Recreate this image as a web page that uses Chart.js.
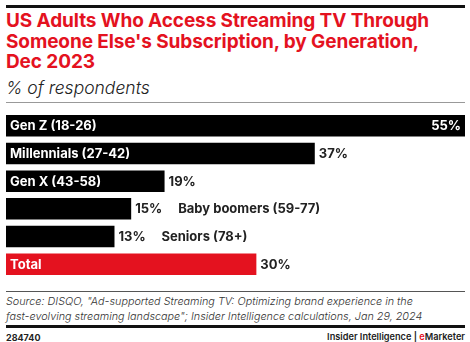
<!DOCTYPE html>
<html>
<head>
<meta charset="utf-8">
<script src="https://cdn.jsdelivr.net/npm/chart.js@4.4.1/dist/chart.umd.min.js"></script>
<style>
  html, body { margin: 0; padding: 0; background: #fff; }
  body { width: 470px; height: 342px; position: relative; overflow: hidden; font-family: Inter, "Noto Sans", sans-serif; }
  .rule { position: absolute; left: 6px; width: 459px; }
  #title { position: absolute; left: 6px; top: 11px; width: 464px; color: #e4121f; font-weight: 700; font-size: 19px; line-height: 20.5px; letter-spacing: -0.1px; white-space: nowrap; }
  #subtitle { position: absolute; left: 6px; top: 77px; font-style: italic; font-size: 17.5px; color: #222; font-weight: 300; }
  #chartBox { position: absolute; left: 6px; top: 112px; width: 459px; height: 166px; }
  #source { position: absolute; left: 6px; top: 294px; font-style: italic; font-size: 10.8px; line-height: 15px; color: #333; font-weight: 300; white-space: nowrap; }
  #id { position: absolute; left: 6px; top: 332px; font-size: 9px; font-weight: 700; color: #222; }
  #brand { position: absolute; right: 5px; top: 331px; font-size: 9.2px; font-weight: 600; color: #222; }
</style>
</head>
<body>
<div class="rule" style="top:5px;height:3px;background:#111"></div>
<div id="title">US Adults Who Access Streaming TV Through<br>Someone Else's Subscription, by Generation,<br>Dec 2023</div>
<div id="subtitle">% of respondents</div>
<div class="rule" style="top:102px;height:1px;background:#999"></div>
<div id="chartBox"><canvas id="bars"></canvas></div>
<div class="rule" style="top:291px;height:1px;background:#555"></div>
<div id="source">Source: DISQO, "Ad-supported Streaming TV: Optimizing brand experience in the<br>fast-evolving streaming landscape"; Insider Intelligence calculations, Jan 29, 2024</div>
<div class="rule" style="top:325px;height:3px;background:#111"></div>
<div id="id">284740</div>
<div id="brand">Insider Intelligence | <span style="color:#e4121f">e</span>Marketer</div>
<script>
const categories = ['Gen Z (18-26)', 'Millennials (27-42)', 'Gen X (43-58)', 'Baby boomers (59-77)', 'Seniors (78+)', 'Total'];
const values = [55, 37, 19, 15, 13, 30];
const barColors = ['#000000', '#000000', '#000000', '#000000', '#000000', '#e4121f'];

const labelFont = '700 13px Inter, "Noto Sans", sans-serif';

// category name goes inside the bar when there is room, otherwise after the value
const barLabels = {
  id: 'barLabels',
  afterDatasetsDraw(chart) {
    const ctx = chart.ctx;
    const meta = chart.getDatasetMeta(0);
    ctx.save();
    ctx.font = labelFont;
    ctx.textBaseline = 'middle';
    meta.data.forEach((bar, i) => {
      const left = bar.base;
      const right = bar.x;
      const y = bar.y + 0.5;
      const valText = values[i] + '%';
      const catText = categories[i];
      const catW = ctx.measureText(catText).width;
      const valW = ctx.measureText(valText).width;
      const inside = catW + 30 < right - left;
      if (inside) {
        ctx.fillStyle = '#fff';
        ctx.textAlign = 'left';
        ctx.fillText(catText, left + 4, y);
        if (right + 6 + valW > chart.chartArea.right) {
          ctx.textAlign = 'right';
          ctx.fillText(valText, right - 4, y);
        } else {
          ctx.fillStyle = '#222';
          ctx.textAlign = 'left';
          ctx.fillText(valText, right + 4, y);
        }
      } else {
        ctx.fillStyle = '#222';
        ctx.textAlign = 'left';
        ctx.fillText(valText, right + 4, y);
        ctx.fillText(catText, right + 47, y);
      }
    });
    ctx.restore();
  }
};

new Chart(document.getElementById('bars'), {
  type: 'bar',
  data: {
    labels: categories,
    datasets: [{
      data: values,
      backgroundColor: barColors,
      borderWidth: 0,
      barPercentage: 0.78,
      categoryPercentage: 1
    }]
  },
  options: {
    indexAxis: 'y',
    responsive: true,
    maintainAspectRatio: false,
    animation: false,
    layout: { padding: 0 },
    plugins: { legend: { display: false }, tooltip: { enabled: false } },
    scales: {
      x: { display: false, min: 0, max: 55 },
      y: { display: false }
    }
  },
  plugins: [barLabels]
});
</script>
</body>
</html>
